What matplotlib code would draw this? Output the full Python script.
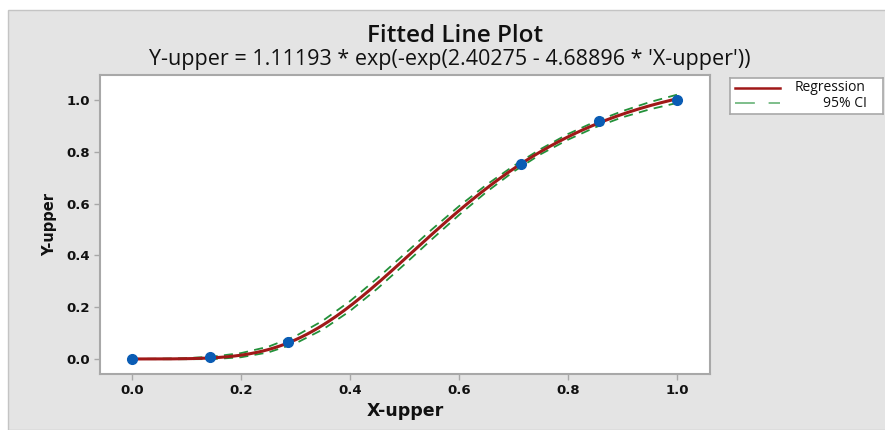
import numpy as np
import matplotlib
matplotlib.use("Agg")
import matplotlib.pyplot as plt
from matplotlib.patches import Rectangle
from matplotlib.lines import Line2D

# ---- data ----
x_obs = [0.0, 1/7, 2/7, 5/7, 6/7, 1.0]
y_obs = [0.0, 0.007, 0.064, 0.752, 0.917, 1.0]

# fitted model stated in the subtitle
fit_a, fit_b, fit_c = 1.11193, 2.40275, 4.68896

# 95% CI half-widths
ci_x = [0.0, 0.05, 0.10, 0.15, 0.20, 0.25, 0.30, 0.35, 0.40, 0.45, 0.50,
        0.55, 0.60, 0.65, 0.70, 0.75, 0.80, 0.85, 0.90, 0.95, 1.0]
ci_hw = [0.0, 0.001, 0.002, 0.005, 0.008, 0.011, 0.014, 0.017, 0.019, 0.020, 0.020,
         0.019, 0.017, 0.014, 0.011, 0.010, 0.011, 0.011, 0.012, 0.014, 0.016]

x_ticks = [0.0, 0.2, 0.4, 0.6, 0.8, 1.0]
y_ticks = [0.0, 0.2, 0.4, 0.6, 0.8, 1.0]

title = "Fitted Line Plot"
subtitle = "Y-upper = 1.11193 * exp(-exp(2.40275 - 4.68896 * 'X-upper'))"
xlabel = "X-upper"
ylabel = "Y-upper"
legend_labels = ["Regression", "95% CI"]

# ---- colours ----
bg_grey = "#e4e4e4"
red = "#a01818"
green = "#23913a"
blue = "#0a5cb4"
spine = "#a8a8a8"
txt = "#111111"

W, H = 885, 430
fig = plt.figure(figsize=(W / 100, H / 100), dpi=100)
fig.patch.set_facecolor("white")

def fx(px):
    return px / W

def fy(py):
    return 1 - py / H

# grey outer panel
panel = Rectangle((fx(8), 0), 1 - fx(8) + 0.01, fy(10), transform=fig.transFigure,
                  facecolor=bg_grey, edgecolor="#c4c4c4", linewidth=1.0, zorder=-10)
fig.add_artist(panel)

ax = fig.add_axes([fx(100), fy(374), fx(710) - fx(100), fy(75) - fy(374)])
ax.set_zorder(2)
ax.set_facecolor("white")

def model(x):
    x = np.asarray(x, dtype=float)
    return fit_a * np.exp(-np.exp(fit_b - fit_c * x))

xs = np.linspace(0, 1, 201)
ci_xa = np.array(ci_x)
ci_fit = model(ci_xa)
ci_up = ci_fit + np.array(ci_hw)
ci_lo = ci_fit - np.array(ci_hw)

ax.plot(ci_xa, ci_up, color=green, lw=1.3, linestyle=(0, (5, 3.5)), zorder=2)
ax.plot(ci_xa, ci_lo, color=green, lw=1.3, linestyle=(0, (5, 3.5)), zorder=2)
ax.plot(xs, model(xs), color=red, lw=2.2, zorder=3, solid_capstyle="round")
ax.plot(x_obs, y_obs, linestyle="none", marker="o", markersize=7, color=blue,
        markeredgecolor=blue, zorder=4)

ax.set_xlim(-0.0587, 1.0606)
ax.set_ylim(-0.058, 1.0965)
ax.set_xticks(x_ticks)
ax.set_yticks(y_ticks)
ax.set_xticklabels([f"{v:.1f}" for v in x_ticks])
ax.set_yticklabels([f"{v:.1f}" for v in y_ticks])
for s in ax.spines.values():
    s.set_color(spine)
    s.set_linewidth(1.5)
ax.tick_params(axis="both", direction="out", length=4, width=1, color=spine,
               labelsize=9.5, labelcolor=txt)
ax.tick_params(axis="x", pad=3.5)
ax.tick_params(axis="y", pad=3)
for lab in ax.get_xticklabels() + ax.get_yticklabels():
    lab.set_fontweight("bold")
    lab.set_family("DejaVu Sans")

ax.set_xlabel(xlabel, fontsize=12.5, fontweight="bold", color=txt, labelpad=3, family="DejaVu Sans")
ax.set_ylabel(ylabel, fontsize=10.5, fontweight="bold", color=txt, labelpad=7, family="DejaVu Sans")

fig.text(fx(455), fy(36), title, ha="center", va="center", fontsize=17.5,
         fontweight="semibold", color=txt, family="Open Sans")
fig.text(fx(450), fy(59), subtitle, ha="center", va="center", fontsize=15.5,
         color=txt, family="Open Sans")

# legend box
lax = fig.add_axes([fx(730), fy(114), fx(883) - fx(730), fy(78) - fy(114)])
lax.set_zorder(2)
lax.set_xlim(0, 1)
lax.set_ylim(0, 1)
lax.set_xticks([])
lax.set_yticks([])
lax.set_facecolor("white")
for s in lax.spines.values():
    s.set_color(spine)
    s.set_linewidth(1.2)
lax.add_line(Line2D([0.033, 0.33], [0.72, 0.72], color=red, lw=1.8))
lax.add_line(Line2D([0.033, 0.33], [0.30, 0.30], color=green, lw=1.1,
                    linestyle=(0, (13, 9)), alpha=0.75))
lax.text(0.885, 0.73, legend_labels[0], ha="right", va="center", fontsize=10, color=txt, family="Open Sans")
lax.text(0.895, 0.30, legend_labels[1], ha="right", va="center", fontsize=10, color=txt, family="Open Sans")

fig.savefig("out.png", dpi=100, facecolor=fig.get_facecolor())
